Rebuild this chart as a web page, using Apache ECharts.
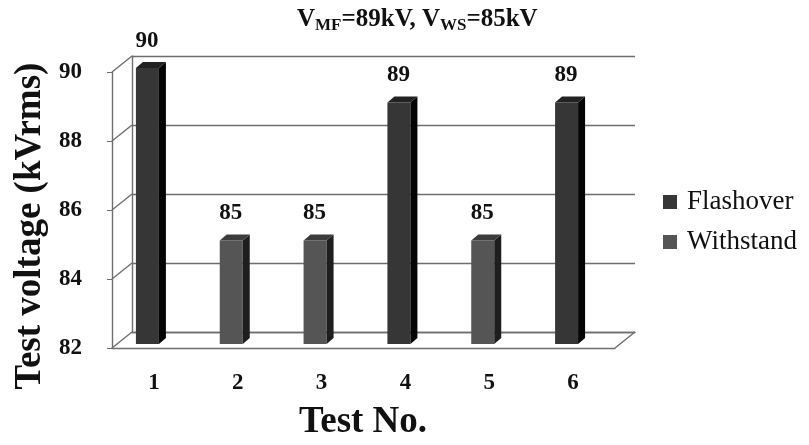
<!DOCTYPE html>
<html><head><meta charset="utf-8">
<script src="https://cdn.jsdelivr.net/npm/echarts@6/dist/echarts.min.js"></script>
<style>html,body{margin:0;padding:0;background:#fff}#c{width:809px;height:445px}</style>
</head><body><div id="c"></div>
<script>
// ---- data ----
const categories = ['1', '2', '3', '4', '5', '6'];
const flashover = [90, null, null, 89, null, 89];
const withstand = [null, 85, 85, null, 85, null];
const yMin = 82, yMax = 90, yStep = 2;
const yTicks = [82, 84, 86, 88, 90];
const seriesNames = ['Flashover', 'Withstand'];

// ---- layout / style ----
const FONT = '"Liberation Serif", "Times New Roman", serif';
const DX = 20, DY = -16;
const front = { left: 112, top: 72, width: 503, height: 276 };
const back = { left: front.left + DX, top: front.top + DY, width: front.width, height: front.height };
const GRID_C = '#6e6e6e';
const LEG_X = 663, LEG_Y = 195, LEG_STEP = 40, LEG_ICON = 14;

function barSeries(name, values, face, side, topc) {
  return {
    type: 'custom', name: name, xAxisIndex: 0, yAxisIndex: 0, z: 5,
    itemStyle: { color: face },
    data: values.map((v, i) => [i, v]).filter(d => d[1] != null),
    encode: { x: 0, y: 1 },
    renderItem: function (params, api) {
      const i = api.value(0), v = api.value(1);
      const t = api.coord([i, v]);
      const b = api.coord([i, yMin]);
      const cx = t[0];
      const L = cx - 18, R = cx + 5, sx = 7, sy = -6, o = -4;
      const ty = t[1] + o, by = b[1] + o;
      return {
        type: 'group', children: [
          { type: 'rect', shape: { x: L, y: ty, width: R - L, height: by - ty }, style: { fill: face } },
          { type: 'polygon', shape: { points: [[R, ty], [R + sx, ty + sy], [R + sx, by + sy], [R, by]] }, style: { fill: side } },
          { type: 'polygon', shape: { points: [[L, ty], [L + sx, ty + sy], [R + sx, ty + sy], [R, ty]] }, style: { fill: topc } },
          { type: 'text', x: cx - 7, y: t[1] - 31, style: { text: String(v), font: 'bold 23px ' + FONT, fill: '#111', align: 'center', verticalAlign: 'middle' } }
        ]
      };
    }
  };
}

const connectors = {
  type: 'custom', name: 'connectors', xAxisIndex: 0, yAxisIndex: 0, silent: true, z: 1,
  data: yTicks.map(v => [0, v]),
  encode: { x: 0, y: 1 },
  renderItem: function (params, api) {
    const v = api.value(1);
    const p = api.coord([0, v]);
    const cs = params.coordSys;
    const x0 = cs.x;
    const kids = [{ type: 'line', shape: { x1: x0, y1: p[1], x2: x0 + DX, y2: p[1] + DY }, style: { stroke: GRID_C, lineWidth: 1.4 } }];
    if (v === yMin) {
      kids.push({ type: 'line', shape: { x1: x0 + cs.width, y1: p[1], x2: x0 + cs.width + DX, y2: p[1] + DY }, style: { stroke: GRID_C, lineWidth: 1.4 } });
    }
    return { type: 'group', children: kids };
  }
};

const chart = echarts.init(document.getElementById('c'), null, { renderer: 'canvas' });
chart.setOption({
  backgroundColor: '#fff',
  animation: false,
  textStyle: { fontFamily: FONT },
  title: {
    text: '{b|V}{s|MF}{b|=89kV, V}{s|WS}{b|=85kV}',
    left: 292, top: 2,
    textStyle: {
      rich: {
        b: { fontFamily: FONT, fontWeight: 'bold', fontSize: 25, color: '#111', lineHeight: 26, verticalAlign: 'middle' },
        s: { fontFamily: FONT, fontWeight: 'bold', fontSize: 17, color: '#111', lineHeight: 26, verticalAlign: 'middle', padding: [12, 0, 0, 0] }
      }
    }
  },
  legend: {
    data: seriesNames,
    orient: 'vertical', left: LEG_X, top: LEG_Y, padding: 0, itemGap: LEG_STEP - LEG_ICON,
    icon: 'rect', itemWidth: LEG_ICON, itemHeight: LEG_ICON,
    formatter: function () { return ''; },
    textStyle: { fontSize: 1, lineHeight: 1 }
  },
  graphic: [
    { type: 'text', x: 30, y: 226, rotation: Math.PI / 2,
      style: { text: 'Test voltage (kVrms)', font: 'bold 37px ' + FONT, fill: '#111', align: 'center', verticalAlign: 'middle' } },
    { type: 'text', x: 363, y: 422,
      style: { text: 'Test No.', font: 'bold 37px ' + FONT, fill: '#111', align: 'center', verticalAlign: 'middle' } }
  ].concat(seriesNames.map((n, k) => ({
    type: 'text', x: LEG_X + LEG_ICON + 10, y: LEG_Y + LEG_ICON / 2 + k * LEG_STEP,
    style: { text: n, font: '27px ' + FONT, fill: '#111', align: 'left', verticalAlign: 'middle' }
  }))),
  grid: [
    Object.assign({}, front, { containLabel: false }),
    Object.assign({}, back, { containLabel: false })
  ],
  xAxis: [
    {
      type: 'category', data: categories, gridIndex: 0,
      axisLine: { show: true, lineStyle: { color: GRID_C, width: 1.4 } },
      axisTick: { show: false },
      axisLabel: { margin: 24, fontFamily: FONT, fontWeight: 'bold', fontSize: 23, color: '#111' }
    },
    {
      type: 'category', data: categories, gridIndex: 1,
      axisLine: { show: true, lineStyle: { color: GRID_C, width: 1.4 } },
      axisTick: { show: false }, axisLabel: { show: false }
    }
  ],
  yAxis: [
    {
      type: 'value', gridIndex: 0, min: yMin, max: yMax, interval: yStep,
      axisLine: { show: true, lineStyle: { color: GRID_C, width: 1.4 } },
      axisTick: { show: true, length: 5, lineStyle: { color: GRID_C } },
      splitLine: { show: false },
      axisLabel: { margin: 30, fontFamily: FONT, fontWeight: 'bold', fontSize: 23, color: '#111' }
    },
    {
      type: 'value', gridIndex: 1, min: yMin, max: yMax, interval: yStep,
      axisLine: { show: true, lineStyle: { color: GRID_C, width: 1.4 } },
      axisTick: { show: false }, axisLabel: { show: false },
      splitLine: { show: true, lineStyle: { color: GRID_C, width: 1.4 } }
    }
  ],
  series: [
    connectors,
    barSeries('Flashover', flashover, '#363636', '#050505', '#222222'),
    barSeries('Withstand', withstand, '#555555', '#1e1e1e', '#3c3c3c')
  ]
});
</script>
</body></html>
